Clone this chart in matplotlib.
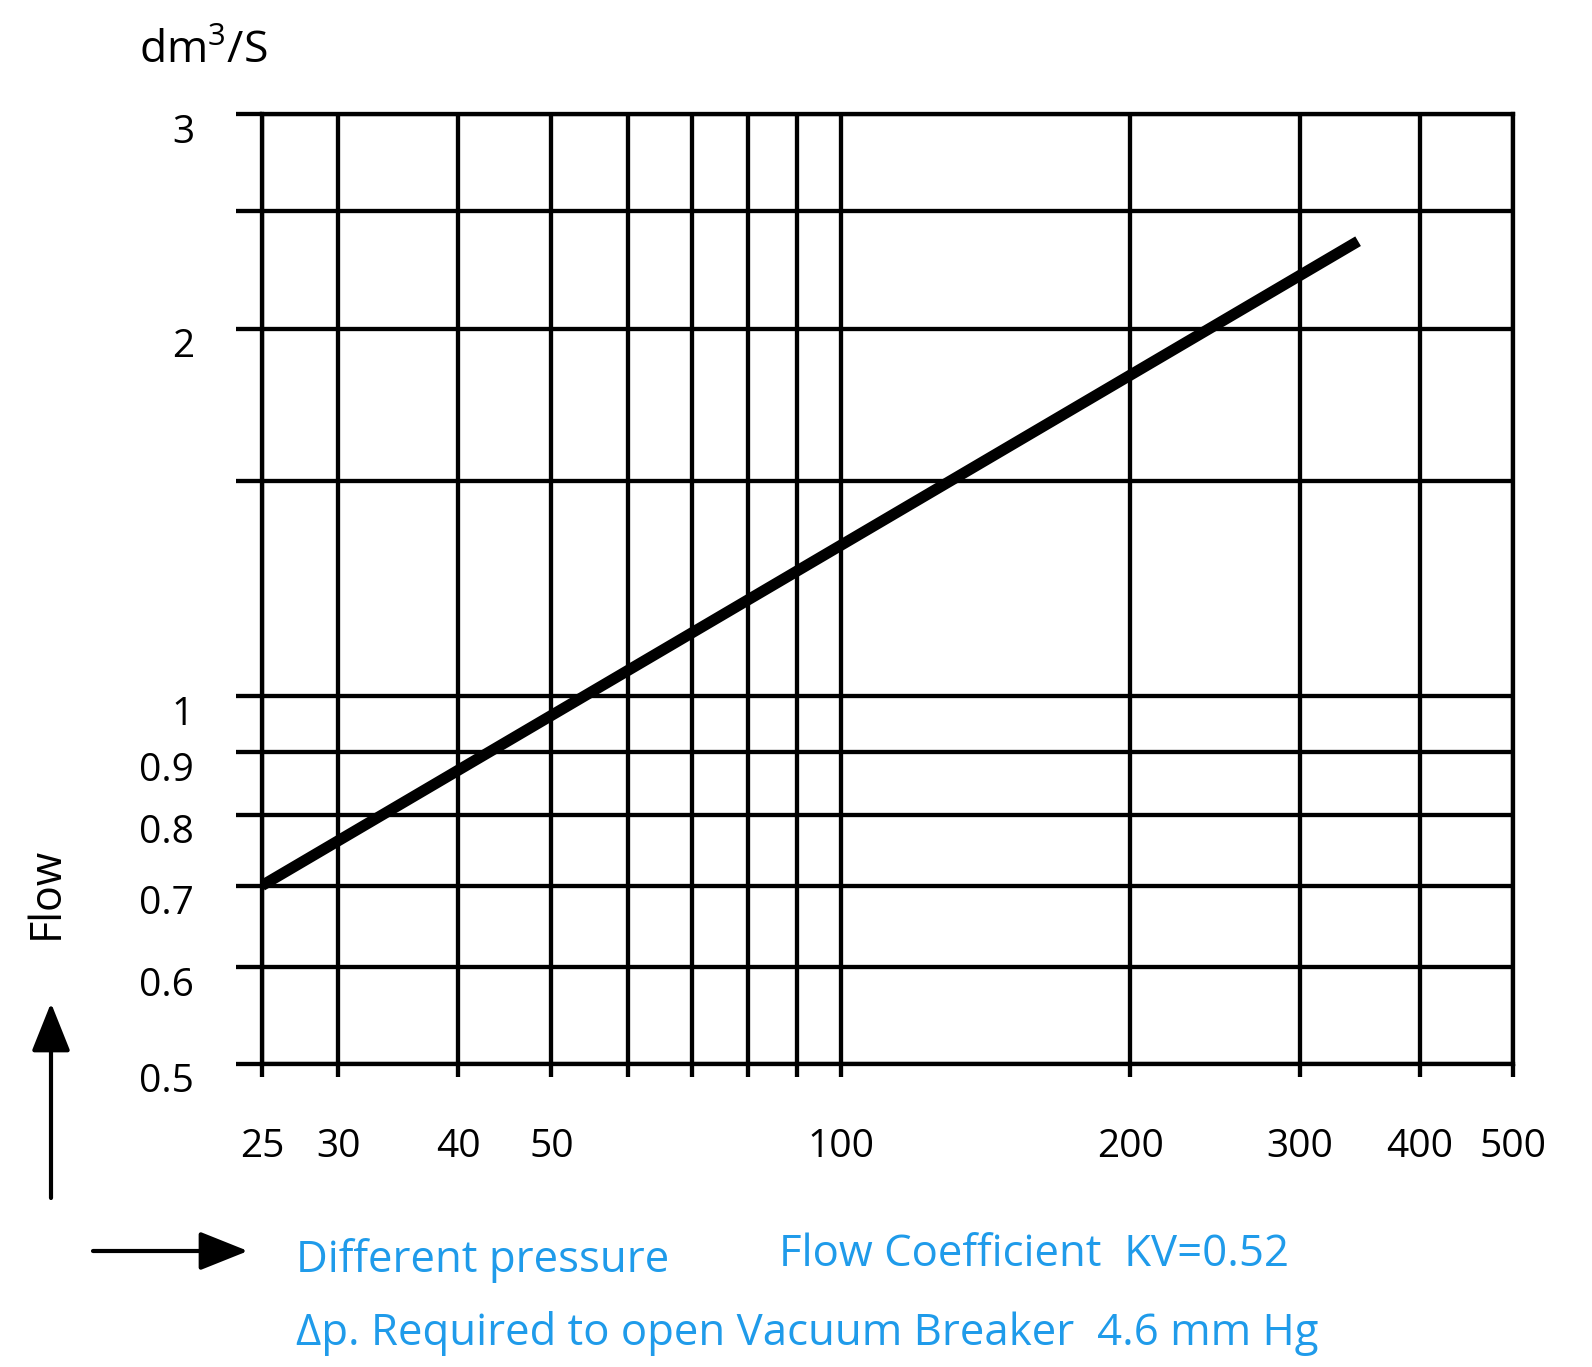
import numpy as np
import matplotlib
matplotlib.use("Agg")
import matplotlib.pyplot as plt
import matplotlib.transforms as mtransforms
from matplotlib.ticker import NullLocator

plt.rcParams['font.family'] = ['Open Sans', 'DejaVu Sans']
plt.rcParams['mathtext.fontset'] = 'custom'
plt.rcParams['mathtext.rm'] = 'Open Sans'
plt.rcParams['mathtext.it'] = 'Open Sans'

# pressure difference (x) and flow (y), straight line on log-log paper
pressure = [25, 345]
flow = [0.7, 2.36]

x_grid = [25, 30, 40, 50, 60, 70, 80, 90, 100, 200, 300, 400, 500]
x_labels = ["25", "30", "40", "50", "", "", "", "", "100", "200", "300", "400", "500"]
y_grid = [0.5, 0.6, 0.7, 0.8, 0.9, 1.0, 1.5, 2.0, 2.5, 3.0]
y_labels = ["0.5", "0.6", "0.7", "0.8", "0.9", "1", "", "2", "", "3"]

BLUE = "#1f9bea"
LW = 3.1

fig = plt.figure(figsize=(15.92, 13.67), dpi=100)
ax = fig.add_axes([0.1646, 0.2217, 0.7858, 0.6949])

ax.set_xscale("log")
ax.set_yscale("log")
ax.set_xlim(25, 500)
ax.set_ylim(0.5, 3)

ax.set_xticks(x_grid)
ax.set_xticklabels(x_labels)
ax.set_yticks(y_grid)
ax.set_yticklabels(y_labels)
ax.xaxis.set_minor_locator(NullLocator())
ax.yaxis.set_minor_locator(NullLocator())

ax.grid(True, which="major", color="black", linewidth=LW)
for s in ax.spines.values():
    s.set_color("black")
    s.set_linewidth(LW)

ax.tick_params(axis="x", direction="out", length=9, width=LW, pad=37, labelsize=28)
ax.tick_params(axis="y", direction="out", length=19, width=LW, pad=30, labelsize=28)

# y labels sit slightly below their lines in the original
off = mtransforms.ScaledTranslation(0, -14 / 100, fig.dpi_scale_trans)
for lab in ax.get_yticklabels():
    lab.set_transform(lab.get_transform() + off)

ax.plot(pressure, flow, color="black", linewidth=8, solid_capstyle="butt", zorder=5)

# unit and axis captions
fig.text(139 / 1592, 1 - 52 / 1367, r"dm$^{3}$/S", fontsize=32, va="center", ha="left")
fig.text(46 / 1592, 1 - 893 / 1367, "Flow", fontsize=31, rotation=90, va="center", ha="center")

arrow = dict(arrowstyle="-|>,head_length=1.5,head_width=0.6", color="black", lw=3,
             mutation_scale=20, shrinkA=0, shrinkB=0)
ax.annotate("", xy=(51 / 1592, 1 - 1003 / 1367), xytext=(51 / 1592, 1 - 1198 / 1367),
            xycoords="figure fraction", textcoords="figure fraction", arrowprops=arrow)
ax.annotate("", xy=(248 / 1592, 1 - 1251 / 1367), xytext=(93 / 1592, 1 - 1251 / 1367),
            xycoords="figure fraction", textcoords="figure fraction", arrowprops=arrow)

fig.text(296 / 1592, 1 - 1261 / 1367, "Different pressure", color=BLUE, fontsize=31.5, va="center", ha="left")
fig.text(779 / 1592, 1 - 1255 / 1367, "Flow Coefficient  KV=0.52", color=BLUE, fontsize=31.5, va="center", ha="left")
fig.text(296 / 1592, 1 - 1334 / 1367, "\u0394p. Required to open Vacuum Breaker  4.6 mm Hg", color=BLUE,
         fontsize=31.5, va="center", ha="left")

fig.savefig("out.png", dpi=100)
